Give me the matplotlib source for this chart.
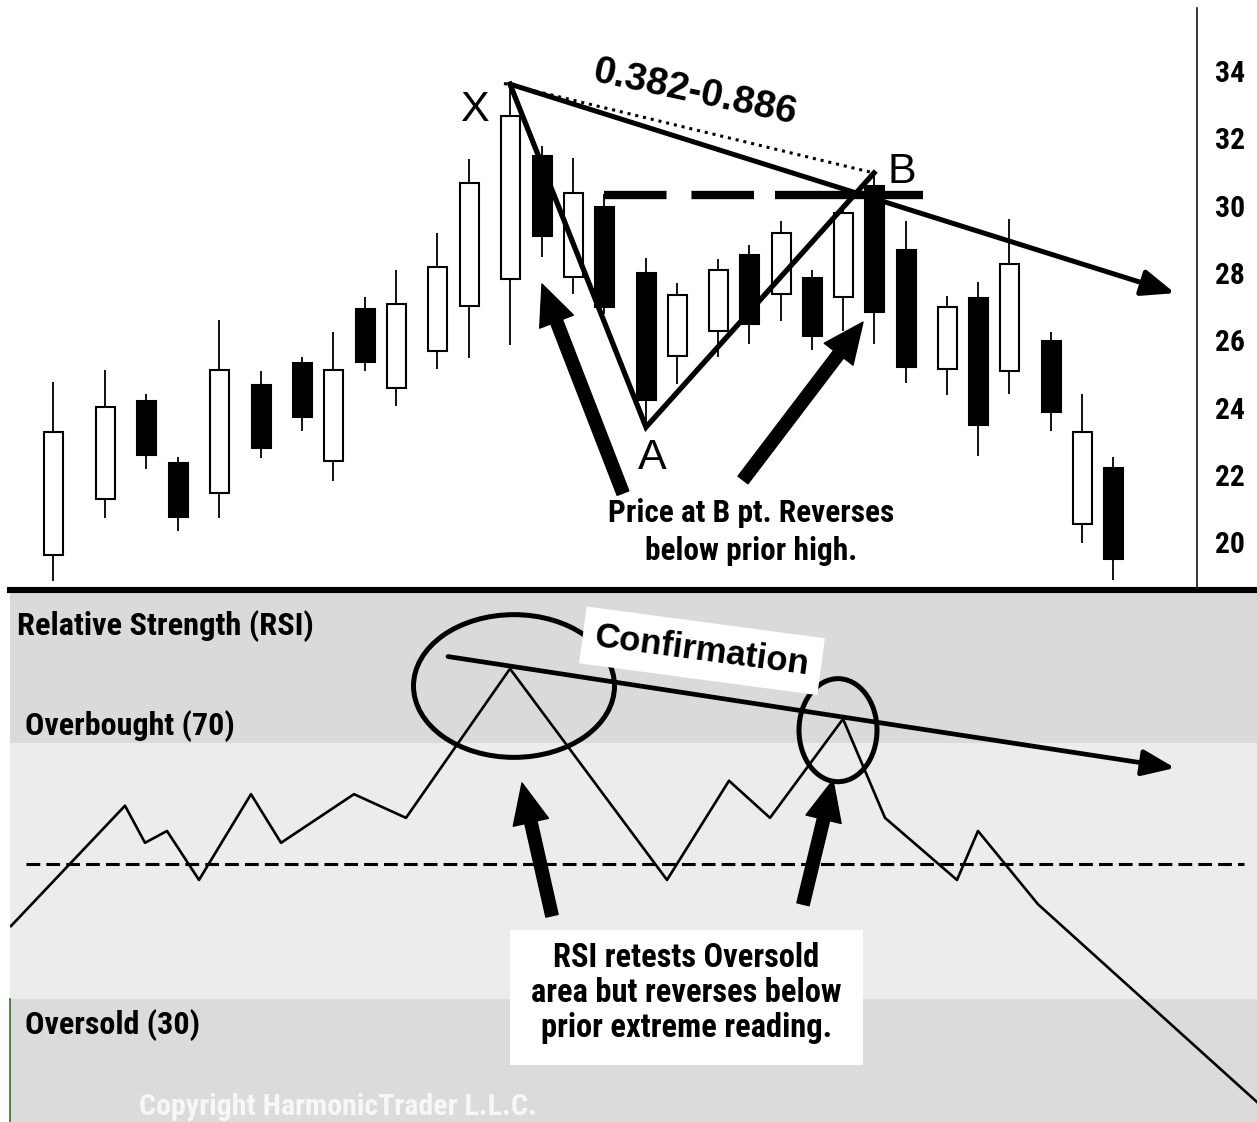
import matplotlib
matplotlib.use("Agg")
from matplotlib import pyplot as plt
from matplotlib import font_manager
from matplotlib.font_manager import FontProperties
from matplotlib.patches import Ellipse, FancyArrowPatch, ArrowStyle, Rectangle

WIDE = ["Liberation Sans", "DejaVu Sans"]

# price bars (position along the time axis, OHLC)
bar_t = [53, 105, 146, 178, 219, 261, 302, 333, 365, 396, 437, 469, 510, 542, 573,
         604, 646, 677, 718, 749, 781, 812, 843, 874, 906, 947, 978, 1009, 1051, 1082, 1113]
bar_open = [19.62, 21.28, 24.19, 22.35, 21.46, 24.67, 25.32, 22.41, 26.93, 24.58, 25.68,
            27.02, 27.82, 31.47, 27.88, 29.96, 28.00, 25.53, 26.27, 28.53, 27.37, 27.85,
            27.28, 30.58, 28.68, 25.14, 27.25, 25.08, 25.98, 20.54, 22.20]
bar_high = [24.76, 25.11, 24.40, 22.53, 26.60, 25.08, 25.50, 26.24, 27.28, 28.09, 29.19,
            31.38, 33.61, 31.77, 31.41, 30.35, 28.44, 27.70, 28.41, 28.83, 29.54, 28.09,
            30.02, 30.97, 29.54, 27.31, 27.73, 29.60, 26.24, 24.40, 22.53]
bar_low = [18.84, 20.72, 22.17, 20.33, 20.72, 22.50, 23.30, 21.82, 25.08, 24.04, 25.14,
           25.47, 25.86, 28.47, 27.37, 26.78, 23.42, 24.70, 25.50, 25.89, 26.57, 25.71,
           26.27, 25.89, 24.73, 24.37, 22.56, 24.40, 23.30, 19.97, 18.87]
bar_close = [23.27, 24.01, 22.59, 20.75, 25.11, 22.80, 23.72, 25.11, 25.35, 27.08, 28.18,
             30.67, 32.66, 29.10, 30.37, 26.99, 24.22, 27.34, 28.09, 26.48, 29.19, 26.12,
             29.78, 26.84, 25.20, 26.99, 23.48, 28.26, 23.87, 23.27, 19.50]
price_ticks = [20, 22, 24, 26, 28, 30, 32, 34]

# pattern points X, A, B (bar index)
i_x, i_a, i_b = 12, 16, 23
prior_high = 30.32
xb_target = (1175, 27.40)

# RSI line
rsi_t = [11, 125, 145, 167, 199, 251, 281, 354, 406, 510, 667, 729, 770, 843, 885,
         957, 978, 1038, 1257]
rsi_val = [41.4, 60.2, 54.4, 56.25, 48.6, 62.0, 54.4, 62.0, 58.3, 81.6, 48.6, 64.1,
           58.3, 73.75, 58.3, 48.6, 56.25, 44.8, 13.9]
overbought, oversold, rsi_mid = 70, 30, 51.1

W, H = 1257, 1122


def rect(x0, y0, x1, y1):
    return [x0 / W, 1 - y1 / H, (x1 - x0) / W, (y1 - y0) / H]


def narrow_font(bold=True):
    # look for a condensed sans face; fall back to the plain one
    want = 700 if bold else 400
    best = None
    for f in font_manager.fontManager.ttflist:
        n = f.name.lower()
        cond = ("narrow" in n or "condensed" in n or
                f.stretch in ("condensed", "semi-condensed", "extra-condensed"))
        if not cond or "mono" in n or "serif" in n and "sans" not in n:
            continue
        w = f.weight if isinstance(f.weight, int) else (700 if "bold" in str(f.weight) else 400)
        if f.style != "normal":
            continue
        score = abs(w - want)
        rank = 0 if "liberation" in n else 1 if "roboto" in n else 2 if "noto sans" in n else 3
        key = (rank, score)
        if best is None or key < best[0]:
            best = (key, f.fname)
    if best is not None:
        return FontProperties(fname=best[1])
    return FontProperties(family=WIDE, weight="bold" if bold else "normal")


NB = narrow_font(True)

fig = plt.figure(figsize=(W / 100, H / 100), dpi=100)
fig.patch.set_facecolor("white")
renderer = fig.canvas.get_renderer()


def fit(texts, width_px):
    w = max(t.get_window_extent(renderer).width for t in texts)
    for t in texts:
        t.set_fontsize(t.get_fontsize() * width_px / w)


# ---------------- price panel ----------------
ax = fig.add_axes(rect(0, 0, 1197, 588))
ax.set_xlim(0, 1197)
ax.set_ylim(18.64, 36.11)
ax.set_facecolor("none")
for s in ["top", "left", "bottom"]:
    ax.spines[s].set_visible(False)
ax.spines["right"].set_linewidth(1.1)
ax.spines["right"].set_bounds(18.64, 35.87)
ax.set_xticks([])
ax.yaxis.tick_right()
ax.set_yticks(price_ticks)
ax.set_yticklabels([str(v) for v in price_ticks], fontproperties=NB, fontsize=23)
ax.tick_params(axis="y", length=0, pad=13)

lo = [min(o, c) for o, c in zip(bar_open, bar_close)]
hgt = [abs(c - o) for o, c in zip(bar_open, bar_close)]
fills = ["white" if c > o else "black" for o, c in zip(bar_open, bar_close)]
ax.vlines(bar_t, bar_low, bar_high, color="black", lw=1.3, zorder=2)
ax.bar(bar_t, hgt, bottom=lo, width=19, color=fills, edgecolor="black", lw=1.5, zorder=3)

X = (bar_t[i_x], bar_high[i_x])
A = (bar_t[i_a], bar_low[i_a])
B = (bar_t[i_b], bar_high[i_b])

ax.plot([X[0], A[0], B[0]], [X[1], A[1], B[1]], color="black", lw=3.8,
        solid_joinstyle="miter", zorder=5)
ax.plot([X[0] - 6, B[0]], [X[1] + 0.02, B[1]], color="black", lw=2.2,
        linestyle=(0, (1, 1.6)), zorder=5)
ax.add_patch(FancyArrowPatch(X, xb_target, arrowstyle="-|>,head_length=1.0,head_width=0.4",
                             mutation_scale=20, color="black", lw=3.6, shrinkA=0, shrinkB=0,
                             zorder=5))
ax.plot([604, 770], [prior_high, prior_high], color="black", lw=6,
        linestyle=(0, (7.5, 3.0)), solid_capstyle="butt", dash_capstyle="butt", zorder=5)
ax.plot([775, 923], [prior_high, prior_high], color="black", lw=6,
        solid_capstyle="butt", zorder=5)

fat = ArrowStyle("simple", head_length=1.45, head_width=1.3, tail_width=0.45)
ax.add_patch(FancyArrowPatch((623, 21.46), (542, 27.67), arrowstyle=fat, mutation_scale=20,
                             color="black", shrinkA=0, shrinkB=0, zorder=6))
ax.add_patch(FancyArrowPatch((743, 21.85), (863, 26.54), arrowstyle=fat, mutation_scale=20,
                             color="black", shrinkA=0, shrinkB=0, zorder=6))

ax.text(474, 32.84, "X", ha="center", va="center", fontsize=31, family=WIDE, zorder=7)
ax.text(652, 22.50, "A", ha="center", va="center", fontsize=31, family=WIDE, zorder=7)
ax.text(902, 31.0, "B", ha="center", va="center", fontsize=31, family=WIDE, zorder=7)
ax.text(695, 33.35, "0.382-0.886", ha="center", va="center", fontsize=28, family=WIDE,
        fontweight="bold", rotation=-12, rotation_mode="anchor", zorder=7)
price_note = [ax.text(751, 20.60, "Price at B pt. Reverses", ha="center", va="baseline",
                      fontproperties=NB, fontsize=23, zorder=7),
              ax.text(751, 19.47, "below prior high.", ha="center", va="baseline",
                      fontproperties=NB, fontsize=23, zorder=7)]

# ---------------- RSI panel ----------------
ax2 = fig.add_axes(rect(10, 590, 1257, 1122))
ax2.set_xlim(10, 1257)
ax2.set_ylim(10.78, 93.9)
ax2.set_xticks([])
ax2.set_yticks([])
ax2.axhspan(overbought, 93.9, color="#dbdadb", lw=0, zorder=0)
ax2.axhspan(oversold, overbought, color="#ececec", lw=0, zorder=0)
ax2.axhspan(10.78, oversold, color="#dbdbdb", lw=0, zorder=0)
for s in ["right", "bottom"]:
    ax2.spines[s].set_visible(False)
ax2.spines["top"].set_linewidth(4.4)
ax2.spines["top"].set_zorder(10)
ax2.spines["left"].set_color("#3f6b2a")
ax2.spines["left"].set_linewidth(1.2)
ax2.spines["left"].set_bounds(10.78, oversold)

ax2.plot([26, 1244], [rsi_mid, rsi_mid], color="black", lw=2.2,
         linestyle=(0, (4.5, 2.0)), zorder=2)
ax2.plot(rsi_t, rsi_val, color="black", lw=1.9, zorder=3)

ax2.add_patch(Ellipse((514, 78.9), 201, 22.3, fill=False, ec="black", lw=3.6, zorder=4))
ax2.add_patch(Ellipse((838, 72.0), 78, 16.1, fill=False, ec="black", lw=3.6, zorder=4))
ax2.add_patch(FancyArrowPatch((448, 83.5), (1175, 66.1),
                              arrowstyle="-|>,head_length=1.0,head_width=0.4",
                              mutation_scale=20, color="black", lw=3.4, shrinkA=0,
                              shrinkB=0, zorder=5))
ax2.add_patch(FancyArrowPatch((552, 43.0), (522, 63.75), arrowstyle=fat, mutation_scale=20,
                              color="black", shrinkA=0, shrinkB=0, zorder=6))
ax2.add_patch(FancyArrowPatch((803, 44.8), (833, 64.2), arrowstyle=fat, mutation_scale=20,
                              color="black", shrinkA=0, shrinkB=0, zorder=6))

t_rsi = ax2.text(17, 86.9, "Relative Strength (RSI)", ha="left", va="baseline",
                 fontproperties=NB, fontsize=23, zorder=7)
t_ob = ax2.text(25, 71.25, "Overbought (70)", ha="left", va="baseline",
                fontproperties=NB, fontsize=23, zorder=7)
t_os = ax2.text(25, 24.5, "Oversold (30)", ha="left", va="baseline",
                fontproperties=NB, fontsize=23, zorder=7)
ax2.text(702, 84.4, "Confirmation", ha="center", va="center", fontsize=25, family=WIDE,
         fontweight="bold", rotation=-7.6, rotation_mode="anchor", zorder=8,
         bbox=dict(boxstyle="square,pad=0.35", fc="white", ec="none"))
ax2.add_patch(Rectangle((510, 19.7), 353, 21.1, fc="white", ec="none", zorder=7))
rsi_note = [ax2.text(686.5, y, s, ha="center", va="baseline", fontproperties=NB,
                     fontsize=23, zorder=8)
            for y, s in [(35.0, "RSI retests Oversold"),
                         (29.5, "area but reverses below"),
                         (24.1, "prior extreme reading.")]]
t_copy = ax2.text(139, 11.9, "Copyright HarmonicTrader L.L.C.", ha="left", va="baseline",
                  fontproperties=NB, fontsize=21, color="#f7f7f7", zorder=7)

fit(price_note, 287)
fit(rsi_note, 312)
fit([t_rsi], 298)
fit([t_ob], 210)
fit([t_os], 176)
fit([t_copy], 398)
labels = ax.get_yticklabels()
w34 = labels[-1].get_window_extent(renderer).width
ax.set_yticklabels([str(v) for v in price_ticks], fontproperties=NB, fontsize=23 * 30 / w34)

fig.savefig("out.png", dpi=100)
